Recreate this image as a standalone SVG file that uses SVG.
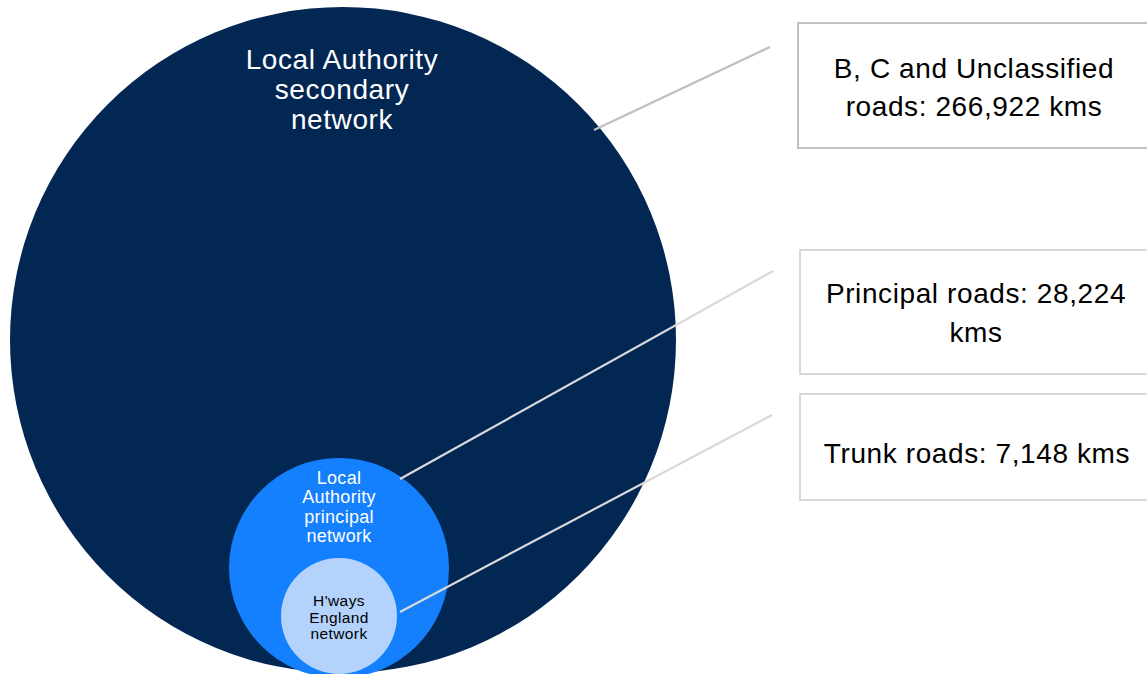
<svg xmlns="http://www.w3.org/2000/svg" width="1147" height="674" viewBox="0 0 1147 674">
<style>
.lbl{font-family:"Liberation Sans",Arial,sans-serif;text-anchor:middle}
.big{font-size:28px;fill:#ffffff;letter-spacing:0.6px}
.mid{font-size:18px;fill:#ffffff;letter-spacing:0.3px}
.sml{font-size:15.5px;fill:#000000;letter-spacing:0.4px}
.box{font-size:28px;fill:#000000;letter-spacing:0.6px}
.conn{stroke-width:2.2;fill:none}
</style>
<rect width="1147" height="674" fill="#ffffff"/>
<g id="secondary">
<circle cx="343" cy="340" r="333" fill="#032753"/>
<text class="lbl big"><tspan x="342" y="69">Local Authority</tspan><tspan x="342" y="99">secondary</tspan><tspan x="342" y="129">network</tspan></text>
</g>
<g id="principal">
<circle cx="339" cy="568" r="110" fill="#1580fd"/>
<text class="lbl mid"><tspan x="339" y="484">Local</tspan><tspan x="339" y="503">Authority</tspan><tspan x="339" y="523">principal</tspan><tspan x="339" y="542">network</tspan></text>
</g>
<g id="hways">
<circle cx="339" cy="616" r="58" fill="#b3d3fc"/>
<text class="lbl sml"><tspan x="339" y="606">H'ways</tspan><tspan x="339" y="623">England</tspan><tspan x="339" y="639">network</tspan></text>
</g>
<g id="connectors">
<line class="conn" x1="594" y1="130" x2="770" y2="47" stroke="#bfbfbf"/>
<line class="conn" x1="400" y1="479" x2="773" y2="271" stroke="#d9d9d9"/>
<line class="conn" x1="400" y1="612" x2="772" y2="415" stroke="#d9d9d9"/>
</g>
<g id="box-bc">
<rect x="798" y="23" width="360" height="125" fill="#ffffff" stroke="#c0c0c0" stroke-width="2"/>
<text class="lbl box"><tspan x="974" y="78">B, C and Unclassified</tspan><tspan x="974" y="116">roads: 266,922 kms</tspan></text>
</g>
<g id="box-principal">
<rect x="800" y="250" width="360" height="124" fill="#ffffff" stroke="#d9d9d9" stroke-width="2"/>
<text class="lbl box"><tspan x="976" y="303">Principal roads: 28,224</tspan><tspan x="976" y="342">kms</tspan></text>
</g>
<g id="box-trunk">
<rect x="800" y="394" width="360" height="106" fill="#ffffff" stroke="#d9d9d9" stroke-width="2"/>
<text class="lbl box"><tspan x="977" y="463">Trunk roads: 7,148 kms</tspan></text>
</g>
</svg>
